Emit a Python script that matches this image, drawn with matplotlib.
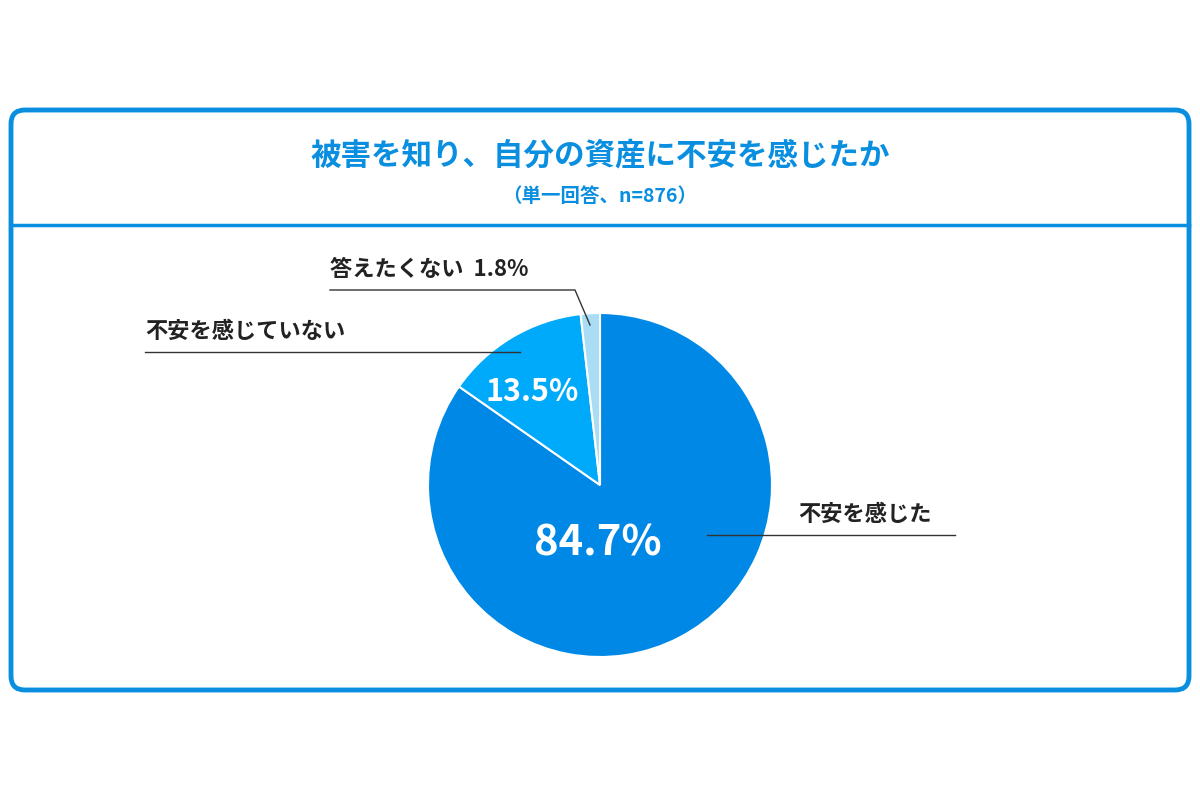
import matplotlib
matplotlib.use("Agg")
import matplotlib.pyplot as plt
from matplotlib.patches import FancyBboxPatch

plt.rcParams['font.family'] = 'Noto Sans CJK JP'

title = "被害を知り、自分の資産に不安を感じたか"
subtitle = "（単一回答、n=876）"
labels = ["不安を感じた", "不安を感じていない", "答えたくない"]
values = [84.7, 13.5, 1.8]
colors = ["#0088E6", "#00AAFA", "#A8DDF5"]

fig = plt.figure(figsize=(12, 8), dpi=100)
ax = fig.add_axes([0, 0, 1, 1])
ax.set_xlim(0, 1200); ax.set_ylim(0, 800); ax.set_aspect('equal'); ax.axis('off')

def Y(p): return 800 - p
blue = "#0A8FE0"
box = FancyBboxPatch((11, Y(690)), 1178, 580, boxstyle="round,pad=0,rounding_size=14",
                     fc="white", ec=blue, lw=3.5)
ax.add_patch(box)
ax.plot([11, 1189], [Y(225), Y(225)], color=blue, lw=2.5)
ax.text(600, Y(155), title, ha='center', va='center', fontsize=22, fontweight='bold', color=blue)
ax.text(600, Y(196), subtitle, ha='center', va='center', fontsize=14, fontweight='bold', color=blue)

ax.pie(values, colors=colors, startangle=90, counterclock=False,
       center=(600, Y(485)), radius=172, frame=True,
       wedgeprops=dict(linewidth=1.5, edgecolor='white'))
ax.set_xlim(0, 1200); ax.set_ylim(0, 800); ax.axis('off')

ax.text(598, Y(543), f"{values[0]}%", ha='center', va='center', fontsize=30, fontweight='bold', color='white')
ax.text(532, Y(392), f"{values[1]}%", ha='center', va='center', fontsize=22, fontweight='bold', color='white')

ax.text(798, Y(514), labels[0], ha='left', va='center', fontsize=16, fontweight='bold', color='#222')
ax.plot([707, 955], [Y(535), Y(535)], color='#333', lw=1)
ax.text(145, Y(331), labels[1], ha='left', va='center', fontsize=16, fontweight='bold', color='#222')
ax.plot([145, 520], [Y(352), Y(352)], color='#333', lw=1)
ax.text(330, Y(270), f"{labels[2]}  {values[2]}%", ha='left', va='center', fontsize=16, fontweight='bold', color='#222')
ax.plot([330, 575, 590], [Y(290), Y(290), Y(325)], color='#333', lw=1)

fig.savefig("out.png", dpi=100)
